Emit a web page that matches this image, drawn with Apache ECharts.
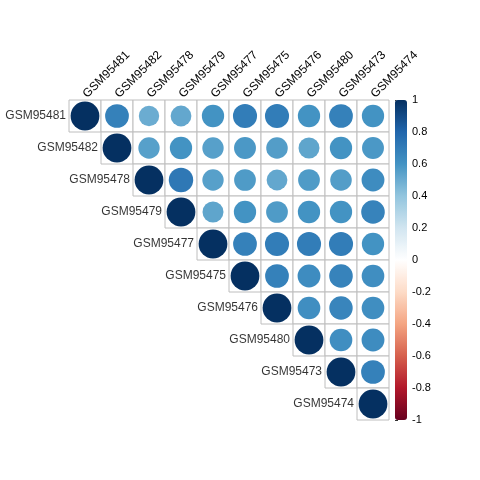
<!DOCTYPE html>
<html>
<head>
<meta charset="utf-8">
<script src="https://cdn.jsdelivr.net/npm/echarts@6/dist/echarts.min.js"></script>
<style>html,body{margin:0;padding:0;background:#fff}#c{width:480px;height:480px}</style>
</head>
<body>
<div id="c"></div>
<script>
var categories = ['GSM95481','GSM95482','GSM95478','GSM95479','GSM95477','GSM95475','GSM95476','GSM95480','GSM95473','GSM95474'];
// upper-triangle correlation rows (starting at the diagonal)
var row1  = [1, 0.68, 0.50, 0.52, 0.60, 0.70, 0.70, 0.60, 0.68, 0.60];
var row2  = [1, 0.55, 0.60, 0.55, 0.58, 0.56, 0.53, 0.60, 0.58];
var row3  = [1, 0.72, 0.55, 0.57, 0.52, 0.57, 0.56, 0.63];
var row4  = [1, 0.53, 0.60, 0.57, 0.60, 0.60, 0.67];
var row5  = [1, 0.68, 0.70, 0.70, 0.70, 0.60];
var row6  = [1, 0.68, 0.63, 0.67, 0.62];
var row7  = [1, 0.62, 0.66, 0.62];
var row8  = [1, 0.62, 0.63];
var row9  = [1, 0.68];
var row10 = [1];
var colorTicks = [-1, -0.8, -0.6, -0.4, -0.2, 0, 0.2, 0.4, 0.6, 0.8, 1];
var palette = ['#67001F','#B2182B','#D6604D','#F4A582','#FDDBC7','#FFFFFF','#D1E5F0','#92C5DE','#4393C3','#2166AC','#053061'];

var rows = [row1,row2,row3,row4,row5,row6,row7,row8,row9,row10];
var circles = [], cells = [], diag = [];
rows.forEach(function(r, i){
  r.forEach(function(v, k){
    var j = i + k;
    circles.push([j, i, v]);
    cells.push([j, i]);
  });
  diag.push([i, i, categories[i]]);
});

var CELL = 32;
var FONT = 'Liberation Sans, Arial, sans-serif';
var chart = echarts.init(document.getElementById('c'));
chart.setOption({
  animation: false,
  backgroundColor: '#fff',
  grid: [
    {left: 69, top: 100, width: 320, height: 320},
    {left: 395, top: 100, width: 12, height: 320}
  ],
  xAxis: [
    {type: 'category', data: categories, position: 'top', gridIndex: 0,
     axisLine: {show: false}, axisTick: {show: false}, splitLine: {show: false},
     axisLabel: {rotate: -45, margin: 4, color: '#000', fontSize: 12, fontFamily: FONT, interval: 0}},
    {type: 'value', gridIndex: 1, show: false, min: 0, max: 1}
  ],
  yAxis: [
    {type: 'category', data: categories, inverse: true, gridIndex: 0,
     axisLine: {show: false}, axisTick: {show: false}, splitLine: {show: false}, axisLabel: {show: false}},
    {type: 'value', gridIndex: 1, min: -1, max: 1, interval: 0.2, position: 'right',
     axisLine: {show: false}, splitLine: {show: false},
     axisTick: {show: true, length: 3, lineStyle: {color: '#333'}},
     axisLabel: {margin: 5, color: '#000', fontSize: 11, fontFamily: FONT,
       formatter: function(v){ return String(+(+v).toFixed(1)); }}}
  ],
  visualMap: {
    type: 'continuous', min: -1, max: 1, dimension: 2, seriesIndex: 1,
    calculable: false, realtime: false, hoverLink: false,
    itemWidth: 12, itemHeight: 320, left: 395, top: 100, padding: 0,
    text: null, showLabel: false,
    inRange: {color: palette}
  },
  series: [
    {type: 'custom', xAxisIndex: 0, yAxisIndex: 0, silent: true, z: 1,
     data: cells,
     renderItem: function(params, api){
       var c = api.coord([api.value(0), api.value(1)]);
       var s = api.size([1, 1]);
       return {type: 'rect', shape: {x: c[0]-s[0]/2, y: c[1]-s[1]/2, width: s[0], height: s[1]},
               style: {fill: '#fff', stroke: '#bebebe', lineWidth: 1}};
     }},
    {type: 'scatter', xAxisIndex: 0, yAxisIndex: 0, z: 3, silent: true,
     data: circles, itemStyle: {opacity: 1},
     symbolSize: function(v){ return 2 * 0.45 * Math.sqrt(Math.abs(v[2])) * CELL; }},
    {type: 'scatter', xAxisIndex: 0, yAxisIndex: 0, z: 4, silent: true,
     data: diag, symbolSize: CELL, itemStyle: {color: 'rgba(0,0,0,0)'},
     label: {show: true, position: 'left', distance: 3, color: '#000', fontSize: 12, fontFamily: FONT,
       formatter: function(p){ return p.value[2]; }}}
  ]
});
</script>
</body>
</html>
